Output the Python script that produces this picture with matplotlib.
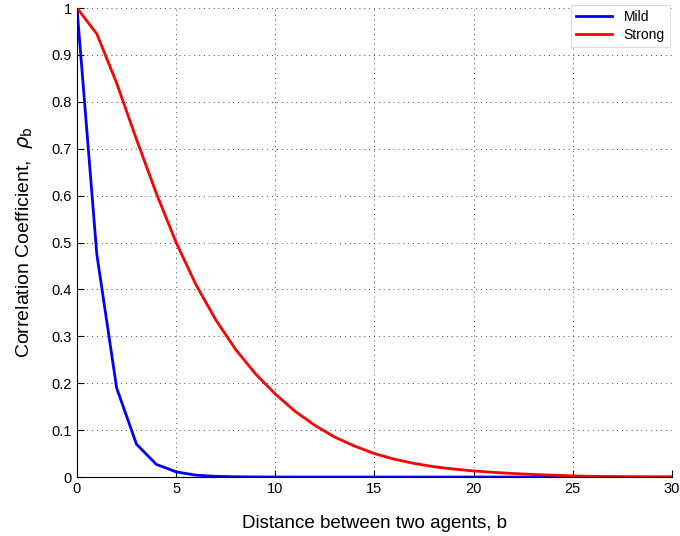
import numpy as np
import matplotlib
matplotlib.use("Agg")
import matplotlib.pyplot as plt

plt.rcParams['font.family'] = ['Liberation Sans', 'DejaVu Sans']

# distance b
b = np.arange(0, 31)
# mild correlation
mild = [1.0, 0.475, 0.19, 0.07, 0.027, 0.011, 0.004, 0.0015, 0.0006, 0.0002,
        0.0001] + [0.0] * 20
# strong correlation
strong = [1.0, 0.945, 0.84, 0.72, 0.605, 0.50, 0.41, 0.335, 0.272, 0.22,
          0.177, 0.14, 0.11, 0.085, 0.066, 0.05, 0.038, 0.029, 0.022, 0.017,
          0.013, 0.01, 0.0075, 0.0055, 0.004, 0.0025, 0.0015, 0.001, 0.0005,
          0.0002, 0.0]

fig = plt.figure(figsize=(6.8, 5.36), dpi=100)
ax = fig.add_axes([0.1132, 0.110, 0.875, 0.875])

ax.plot(b, mild, color='#0000ff', linewidth=2, label='Mild')
ax.plot(b, strong, color='#ff0000', linewidth=2, label='Strong')

ax.set_xlim(0, 30)
ax.set_ylim(0, 1)
ax.set_xticks(np.arange(0, 31, 5))
ax.set_yticks(np.arange(0, 1.01, 0.1))
ax.set_yticklabels(['0', '0.1', '0.2', '0.3', '0.4', '0.5', '0.6', '0.7', '0.8', '0.9', '1'])
ax.tick_params(direction='in', length=5, labelsize=10.5, width=0.8)
ax.grid(True, color='#444444', linestyle=(0, (1, 4)), linewidth=0.7)

for s in ['top', 'right']:
    ax.spines[s].set_visible(False)

ax.set_xlabel('Distance between two agents, b', fontsize=13.5, labelpad=14)
ax.set_ylabel(r'Correlation Coefficient,  $\rho_\mathrm{b}$', fontsize=14, labelpad=12)

leg = ax.legend(loc='upper right', bbox_to_anchor=(0.997, 1.007), fontsize=10,
                fancybox=False, framealpha=1, edgecolor='#dddddd',
                handlelength=2.6, labelspacing=0.25, borderaxespad=0)
leg.get_frame().set_linewidth(0.8)

fig.savefig('out.png', dpi=100)
